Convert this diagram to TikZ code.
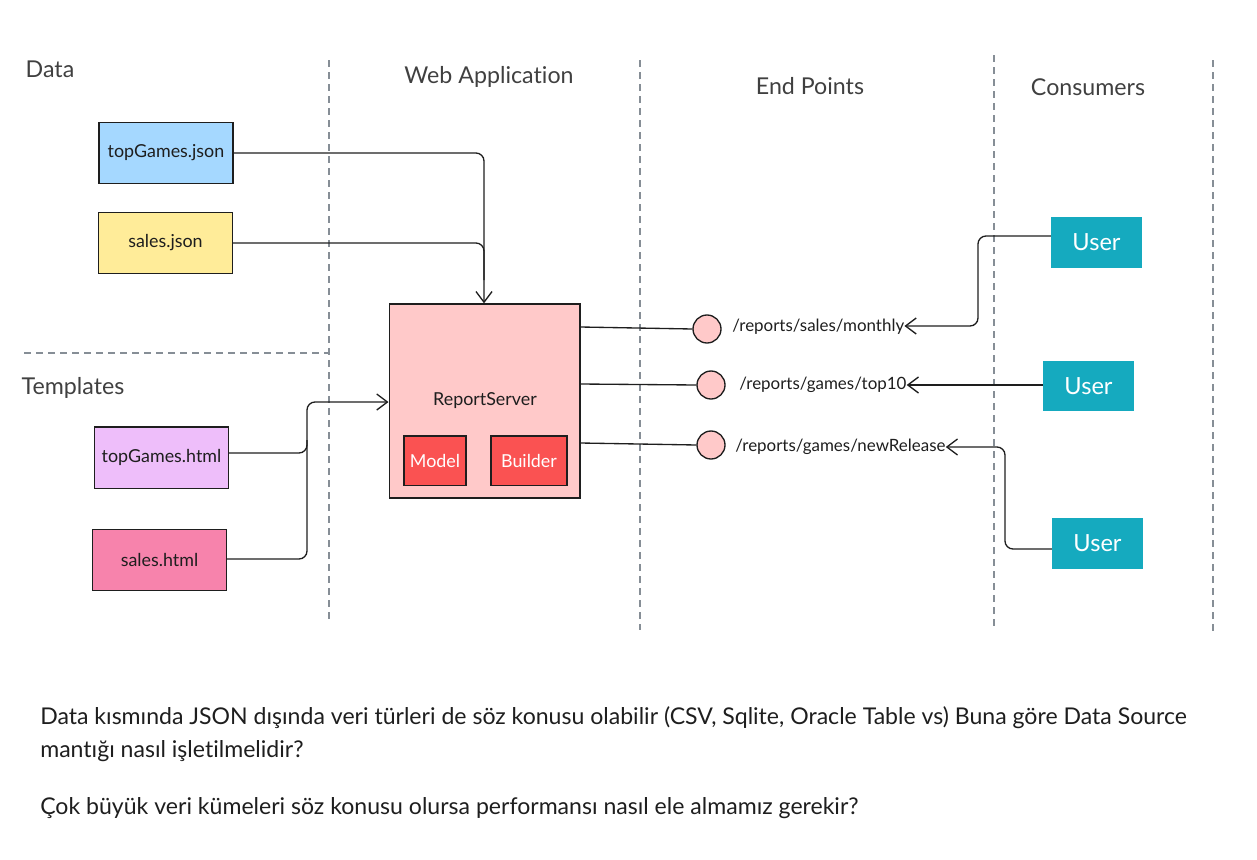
\documentclass[tikz,border=0pt]{standalone}
\usepackage{fontspec}
\setmainfont[Ligatures={NoCommon}]{Lato}
\usetikzlibrary{arrows.meta}
\definecolor{ink}{HTML}{1E1E1E}
\definecolor{dgray}{HTML}{868E96}
\definecolor{cblue}{HTML}{A5D8FF}
\definecolor{cyellow}{HTML}{FFEC99}
\definecolor{cviolet}{HTML}{EEBEFA}
\definecolor{cpink}{HTML}{F783AC}
\definecolor{cserver}{HTML}{FFC9C9}
\definecolor{cred}{HTML}{FA5252}
\definecolor{cteal}{HTML}{15AABF}
\tikzset{
  px/.style={x=0.75pt,y=-0.75pt},
  filebox/.style={draw=ink,line width=1pt,minimum width=100.5pt,minimum height=46pt,inner sep=0pt,font=\fontsize{13.4}{16}\selectfont,text=ink},
  innerbox/.style={draw=ink,line width=1pt,fill=cred,minimum height=37pt,inner sep=0pt,font=\fontsize{13.4}{16}\selectfont,text=white},
  userbox/.style={fill=cteal,minimum width=68pt,minimum height=38pt,inner sep=0pt,font=\fontsize{17.7}{20}\selectfont,text=white},
  epoint/.style={circle,draw=ink,line width=1pt,fill=cserver,minimum size=21pt,inner sep=0pt},
  eplabel/.style={anchor=west,inner sep=0pt,font=\fontsize{12.7}{15}\selectfont,text=ink},
  head/.style={inner sep=0pt,font=\fontsize{17.4}{20}\selectfont,text=ink!85},
  sep/.style={draw=dgray,dashed,line width=0.8pt,dash pattern=on 5pt off 4pt},
  conn/.style={draw=ink,line width=1pt,rounded corners=6pt},
  arr/.style={conn,-{Straight Barb[length=8pt,width=12pt,line width=1pt]}},
}
\begin{document}
\begin{tikzpicture}[px]
\useasboundingbox (0,0) rectangle (1257,860);
% separators
\draw[sep] (329,60) -- (329,620);
\draw[sep] (640,60) -- (640,630);
\draw[sep] (994,55) -- (994,628);
\draw[sep] (1213,60) -- (1213,632);
\draw[sep] (24,353) -- (329,353);
% headings
\node[head] (hData) at (50,69) {Data};
\node[head] (hWeb) at (489,77) {Web Application};
\node[head] (hEnd) at (810,86) {End Points};
\node[head] (hCons) at (1088,87) {Consumers};
\node[head] (hTpl) at (73,388) {Templates};
% files
\node[filebox,fill=cblue] (tgj) at (166,153) {topGames.json};
\node[filebox,fill=cyellow] (sj) at (165.5,243) {sales.json};
\node[filebox,fill=cviolet] (tgh) at (161.5,457.5) {topGames.html};
\node[filebox,fill=cpink] (sh) at (159.5,560) {sales.html};
% server
\node[draw=ink,line width=1pt,fill=cserver,minimum width=143pt,minimum height=145.5pt,inner sep=0pt] (rs) at (484.5,401) {};
\node[inner sep=0pt,font=\fontsize{13.4}{16}\selectfont,text=ink] (rst) at (485,401) {ReportServer};
\node[innerbox,minimum width=46.5pt] (model) at (435,460.5) {Model};
\node[innerbox,minimum width=57pt] (builder) at (529,460.5) {Builder};
% endpoints
\node[epoint] (e1) at (707,329) {};
\node[epoint] (e2) at (711,385) {};
\node[epoint] (e3) at (711,445) {};
\node[eplabel] (l1) at (732,327) {/reports/sales/monthly};
\node[eplabel] (l2) at (739,385) {/reports/games/top10};
\node[eplabel] (l3) at (735,447) {/reports/games/newRelease};
% users
\node[userbox] (u1) at (1096.5,242.5) {User};
\node[userbox] (u2) at (1088.5,386) {User};
\node[userbox] (u3) at (1097.5,543.5) {User};
% connectors
\draw[arr] (tgj.east |- 0,153) -- (484,153) -- (rs.north -| 484,0);
\draw[conn] (sj.east |- 0,243) -- (484,243) -- (484,280);
\draw[arr] (tgh.east |- 0,453) -- (307,453) -- (307,402) -- (rs.west |- 0,402);
\draw[conn] (sh.east |- 0,559) -- (307,559) -- (307,440);
\draw[conn] (rs.east |- 0,327) -- (e1.west);
\draw[conn] (rs.east |- 0,384) -- (e2.west);
\draw[conn] (rs.east |- 0,443) -- (e3.west);
\draw[arr] (u1.west |- 0,236) -- (978,236) -- (978,326) -- (l1.east |- 0,326);
\draw[arr] (u2.west |- 0,385) -- (l2.east |- 0,385);
\draw[arr] (u3.west |- 0,549) -- (1005,549) -- (1005,447) -- (l3.east |- 0,447);
% notes
\node[anchor=north west,inner sep=0pt,align=left,font=\fontsize{17.3}{25}\selectfont,text=ink] (note) at (40,706) {Data kısmında JSON dışında veri türleri de söz konusu olabilir (CSV, Sqlite, Oracle Table vs) Buna göre Data Source\\ mantığı nasıl işletilmelidir?\\[18pt] Çok büyük veri kümeleri söz konusu olursa performansı nasıl ele almamız gerekir?};
\end{tikzpicture}
\end{document}
